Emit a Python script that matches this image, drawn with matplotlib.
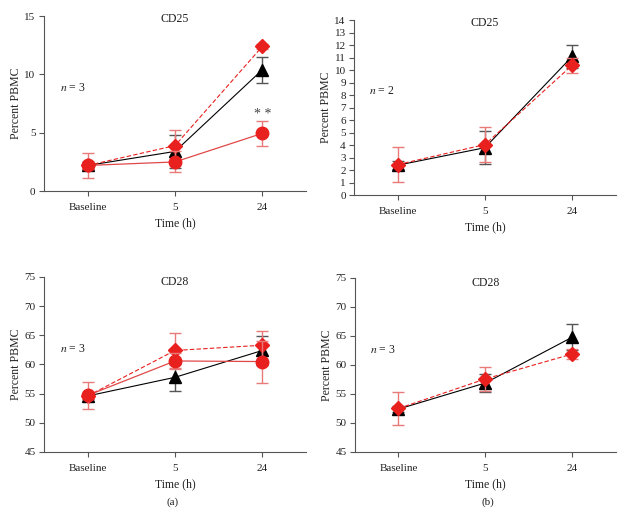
import matplotlib
matplotlib.use("Agg")
import matplotlib.pyplot as plt

plt.rcParams['font.family'] = ['Liberation Serif', 'DejaVu Serif']
plt.rcParams['mathtext.fontset'] = 'stix'

categories = ["Baseline", "5", "24"]

# Panel (a) CD25
a25_tri = [2.2, 3.4, 10.4]
a25_tri_err = [0.3, 1.4, 1.1]
a25_dia = [2.2, 3.9, 12.4]
a25_dia_err = [0.3, 1.3, 0.2]
a25_cir = [2.2, 2.5, 4.95]
a25_cir_err = [1.1, 0.9, 1.1]

# Panel (b) CD25
b25_tri = [2.4, 3.8, 11.1]
b25_tri_err = [0.3, 1.3, 0.95]
b25_dia = [2.45, 4.05, 10.4]
b25_dia_err = [1.4, 1.4, 0.6]

# Panel (a) CD28
a28_tri = [54.6, 57.8, 62.4]
a28_tri_err = [0.5, 2.3, 2.5]
a28_dia = [54.6, 62.4, 63.3]
a28_dia_err = [0.5, 3.0, 2.5]
a28_cir = [54.7, 60.6, 60.5]
a28_cir_err = [2.3, 1.4, 3.6]

# Panel (b) CD28
b28_tri = [52.4, 56.9, 64.8]
b28_tri_err = [0.5, 1.6, 2.3]
b28_dia = [52.5, 57.6, 61.9]
b28_dia_err = [2.8, 2.1, 0.9]

RED = '#e8201e'
RED_LINE = '#e04848'
RED_ERR = '#e87a7a'
GRAY = '#555555'
TXT = '#222222'

fig = plt.figure(figsize=(6.29, 5.11), dpi=100)

def style(ax, ylim, yticks):
    ax.set_xlim(-0.5, 2.5)
    ax.set_ylim(*ylim)
    ax.set_yticks(yticks)
    ax.set_xticks(range(len(categories)))
    ax.set_xticklabels(categories)
    for s in ['top', 'right']:
        ax.spines[s].set_visible(False)
    for s in ['left', 'bottom']:
        ax.spines[s].set_color(GRAY)
        ax.spines[s].set_linewidth(0.8)
    ax.tick_params(axis='both', colors=GRAY, labelcolor=TXT, labelsize=8,
                   length=3.6, width=0.8, direction='out')
    ax.tick_params(axis='x', pad=5)
    ax.tick_params(axis='y', pad=2.5)
    ax.set_ylabel("Percent PBMC", fontsize=8.5, color=TXT, labelpad=2)
    ax.set_xlabel("Time (h)", fontsize=8.5, color=TXT, labelpad=4)

def tri(ax, y, e):
    x = range(len(categories))
    ax.errorbar(x, y, yerr=e, color='black', ecolor=GRAY, elinewidth=1.0, capsize=4,
                capthick=1.0, lw=0.8, marker='^', ms=8, mfc='black', mec='black', zorder=3)

def dia(ax, y, e):
    x = range(len(categories))
    ax.errorbar(x, y, yerr=e, color=RED, ecolor=RED_ERR, elinewidth=1.0, capsize=4,
                capthick=1.0, lw=0.8, ls=(0, (4, 2)), marker='D', ms=7, mfc=RED, mec=RED, zorder=4)

def cir(ax, y, e):
    x = range(len(categories))
    ax.errorbar(x, y, yerr=e, color=RED_LINE, ecolor=RED_ERR, elinewidth=1.0, capsize=4,
                capthick=1.0, lw=0.9, ls='-', marker='o', ms=9, mfc=RED, mec=RED, zorder=5)

def title(ax, s, y):
    ax.text(0.5, y, s, transform=ax.transAxes, ha='center', va='center', fontsize=8.5, color=TXT)

# Top-left
ax1 = fig.add_axes([0.070, 0.626, 0.4165, 0.3425])
tri(ax1, a25_tri, a25_tri_err)
dia(ax1, a25_dia, a25_dia_err)
cir(ax1, a25_cir, a25_cir_err)
style(ax1, (0, 15), [0, 5, 10, 15])
title(ax1, "CD25", 0.983)
ax1.text(-0.32, 8.8, "$n$ = 3", fontsize=8.5, color=TXT, va='center')
ax1.text(2, 6.6, "* *", ha='center', va='center', fontsize=10, color='#444444')

# Top-right
ax2 = fig.add_axes([0.563, 0.618, 0.416, 0.3425])
tri(ax2, b25_tri, b25_tri_err)
dia(ax2, b25_dia, b25_dia_err)
style(ax2, (0, 14), list(range(0, 15)))
title(ax2, "CD25", 0.983)
ax2.text(-0.33, 8.34, "$n$ = 2", fontsize=8.5, color=TXT, va='center')

# Bottom-left
ax3 = fig.add_axes([0.070, 0.1155, 0.4165, 0.3425])
tri(ax3, a28_tri, a28_tri_err)
dia(ax3, a28_dia, a28_dia_err)
cir(ax3, a28_cir, a28_cir_err)
style(ax3, (45, 75), [45, 50, 55, 60, 65, 70, 75])
title(ax3, "CD28", 0.973)
ax3.text(-0.32, 62.65, "$n$ = 3", fontsize=8.5, color=TXT, va='center')

# Bottom-right
ax4 = fig.add_axes([0.5644, 0.1155, 0.4146, 0.3405])
tri(ax4, b28_tri, b28_tri_err)
dia(ax4, b28_dia, b28_dia_err)
style(ax4, (45, 75), [45, 50, 55, 60, 65, 70, 75])
title(ax4, "CD28", 0.973)
ax4.text(-0.33, 62.6, "$n$ = 3", fontsize=8.5, color=TXT, va='center')

fig.text(0.275, 0.0176, "(a)", ha='center', va='center', fontsize=8, color=TXT)
fig.text(0.775, 0.0176, "(b)", ha='center', va='center', fontsize=8, color=TXT)

fig.savefig("out.png", dpi=100)
